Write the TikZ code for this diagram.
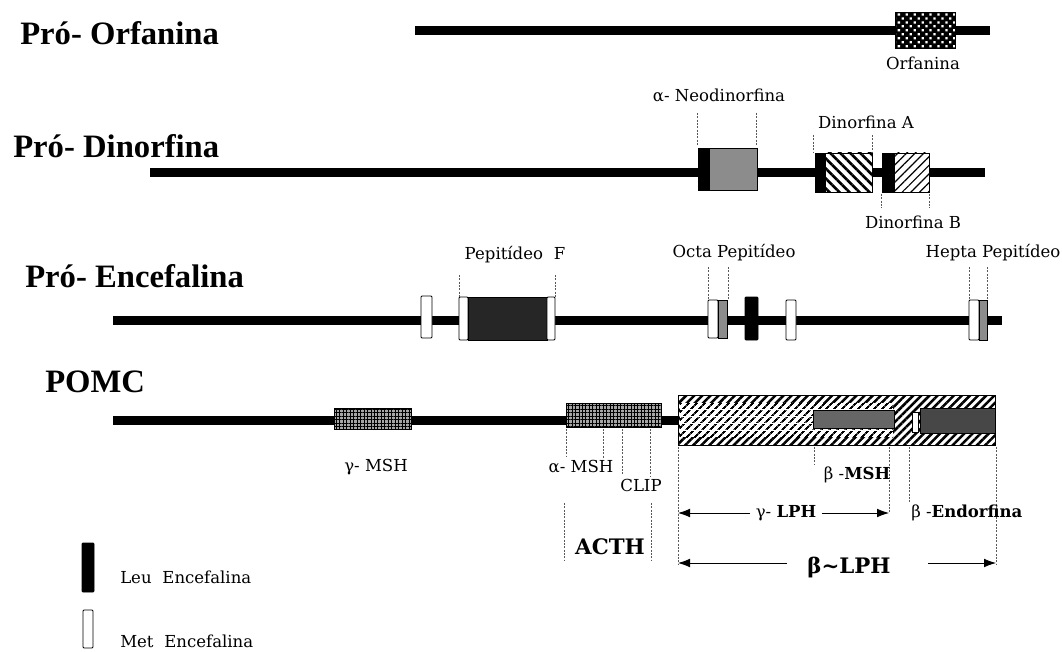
\documentclass[tikz,border=0pt]{standalone}
\usepackage{fontspec}
\setmainfont{DejaVu Serif}
\newfontfamily\ttlfont{Liberation Serif}
\usetikzlibrary{patterns.meta,arrows.meta}
\tikzset{
  backbone/.style={line width=6.75pt},
  guide/.style={draw=black!65, line width=0.6pt, dash pattern=on 1.5pt off 1pt},
  lab/.style={font=\fontsize{12.4}{14}\selectfont, inner sep=0pt},
  ttl/.style={font=\ttlfont\bfseries\fontsize{24.5}{28}\selectfont, inner sep=0pt, anchor=base west},
  bigslab/.style={font=\bfseries\fontsize{16}{18}\selectfont, inner sep=0pt},
  blk/.style={draw=black, line width=0.7pt},
  leu/.style={blk, fill=black, rounded corners=0.8pt},
  met/.style={blk, fill=white, rounded corners=0.8pt},
  dotbox/.style={blk, preaction={fill=black}, pattern={Dots[radius=1.2pt, distance=4.2pt, angle=45]}, pattern color=white},
  greybox/.style={blk, fill=black!45},
  darkbox/.style={blk, fill=black!85},
  hatchA/.style={blk, preaction={fill=white}, pattern={Lines[angle=-45, distance=5.3pt, line width=2pt]}},
  hatchB/.style={blk, preaction={fill=white}, pattern={Lines[angle=45, distance=4.6pt, line width=0.9pt]}},
  crossbox/.style={blk, preaction={fill=black!35}, pattern={Hatch[distance=2.6pt, line width=0.6pt]}},
  bighatch/.style={blk, preaction={fill=white}, pattern={Lines[angle=45, distance=4.3pt, line width=1.9pt]}},
  brick/.style={preaction={fill=white}, pattern={Lines[angle=45, distance=4pt, line width=1.6pt]}},
  arr/.style={line width=0.6pt, -{Latex[length=9pt, width=6.5pt]}},
}
\begin{document}
\begin{tikzpicture}[x=0.75pt, y=-0.75pt]
\useasboundingbox[fill=white] (0,0) rectangle (1062,652);

% ---------- Pro-Orfanina ----------
\node[ttl] (tOrf) at (20,45) {Pró- Orfanina};
\coordinate (o1) at (415,31); \coordinate (o2) at (990,31);
\draw[backbone] (o1) -- (o2);
\path[dotbox] (895,12) rectangle (955,48);
\node[lab] (lOrf) at (923,63) {Orfanina};

% ---------- Pro-Dinorfina ----------
\node[ttl] (tDin) at (13,158) {Pró- Dinorfina};
\coordinate (d1) at (150,173); \coordinate (d2) at (985,173);
\draw[backbone] (d1) -- (d2);
% alpha-neodinorfina
\path[greybox] (698,148) rectangle (757,190);
\fill (698,148) rectangle (710,190);
\draw[guide] (697,113) -- (697,146);
\draw[guide] (756,113) -- (756,146);
\node[lab] (lNeo) at (719,95) {α- Neodinorfina};
% dinorfina A
\path[hatchA] (825,153) rectangle (872,192);
\path[leu, rounded corners=0pt] (815,153) rectangle (825,192);
\draw[guide] (813,135) -- (813,153);
\draw[guide] (872,135) -- (872,153);
\node[lab] (lDinA) at (866,122) {Dinorfina A};
% dinorfina B
\path[hatchB] (894,153) rectangle (929,192);
\path[leu, rounded corners=0pt] (882,153) rectangle (894,192);
\draw[guide] (881,194) -- (881,208);
\draw[guide] (929,194) -- (929,208);
\node[lab] (lDinB) at (913,222) {Dinorfina B};

% ---------- Pro-Encefalina ----------
\node[ttl] (tEnc) at (25,287) {Pró- Encefalina};
\coordinate (e1) at (113,320); \coordinate (e2) at (1002,320);
\draw[backbone] (e1) -- (e2);
\path[met] (421,296) rectangle (432,338);
% peptideo F
\path[met] (459,297) rectangle (468,340);
\path[darkbox] (468,297) rectangle (547,340);
\path[met] (547,297) rectangle (555,340);
\draw[guide] (459,275) -- (459,297);
\draw[guide] (555,275) -- (555,297);
\node[lab] (lPepF) at (515,255) {Pepitídeo\,\, F};
% octa
\path[met] (708,300) rectangle (718,338);
\path[greybox] (718,300) rectangle (727,338);
\draw[guide] (708,267) -- (708,300);
\draw[guide] (728,267) -- (728,300);
\node[lab] (lOcta) at (734,253) {Octa Pepitídeo};
\path[leu] (745,297) rectangle (758,340);
\path[met] (786,300) rectangle (796,340);
% hepta
\path[met] (969,300) rectangle (979,340);
\path[greybox] (979,300) rectangle (987,340);
\draw[guide] (969,267) -- (969,300);
\draw[guide] (987,267) -- (987,300);
\node[lab] (lHepta) at (993,253) {Hepta Pepitídeo};

% ---------- POMC ----------
\node[ttl] (tPOMC) at (45,392) {POMC};
\coordinate (p1) at (113,420); \coordinate (p2) at (680,420);
\draw[backbone] (p1) -- (p2);
% gamma-MSH
\path[crossbox] (334,408) rectangle (411,429);
\node[lab] (lgMSH) at (376,467) {γ- MSH};
% ACTH region
\path[crossbox] (566,403) rectangle (661,427);
\draw[guide] (566,429) -- (566,457);
\draw[guide] (603,429) -- (603,458);
\draw[guide] (622,429) -- (622,475);
\draw[guide] (650,429) -- (650,477);
\node[lab] (laMSH) at (581,467) {α- MSH};
\node[lab] (lCLIP) at (641,485) {CLIP};
\draw[guide] (564,503) -- (564,560);
\draw[guide] (651,503) -- (651,560);
\node[bigslab] (lACTH) at (610,547) {ACTH};
% big beta-LPH box
\path[bighatch] (678,395) rectangle (995,445);
\path[brick] (680,403) rectangle (893,437);
\foreach \yy in {409,416,423,430} \draw[white, line width=0.7pt] (680,\yy) -- (893,\yy);
\draw[blk] (678,395) rectangle (995,445);
\path[blk, fill=black!60] (813,410) rectangle (894,428);
\path[met, rounded corners=0pt] (912,412) rectangle (918,432);
\path[blk, fill=black!72] (920,408) rectangle (995,433);
% guides below
\draw[guide] (678,447) -- (678,565);
\draw[guide] (814,447) -- (814,465);
\draw[guide] (889,447) -- (889,512);
\draw[guide] (909,447) -- (909,503);
\draw[guide] (996,447) -- (996,565);
\node[lab] (lbMSH) at (857,475) {β -\textbf{MSH}};
\node[lab, anchor=west] (lbEnd) at (911,513) {β -\textbf{Endorfina}};
% gamma-LPH arrow
\coordinate (gl) at (678,513); \coordinate (gr) at (889,513);
\node[lab, inner xsep=4pt] (lgLPH) at (786,513) {γ- \textbf{LPH}};
\draw[arr] (lgLPH.west) -- (gl);
\draw[arr] (lgLPH.east) -- (gr);
% beta-LPH arrow
\coordinate (bl) at (678,563); \coordinate (br) at (996,563);
\node[bigslab] (lbLPH) at (849,567) {β\textasciitilde LPH};
\coordinate (bl1) at (787,563); \coordinate (br1) at (928,563);
\draw[arr] (bl1) -- (bl);
\draw[arr] (br1) -- (br);

% ---------- Legend ----------
\path[leu] (82,543) rectangle (94,592);
\node[lab, anchor=west] (lLeu) at (120,577) {Leu\,\, Encefalina};
\path[met] (83,610) rectangle (93,648);
\node[lab, anchor=west] (lMet) at (120,641) {Met\,\, Encefalina};
\end{tikzpicture}
\end{document}
